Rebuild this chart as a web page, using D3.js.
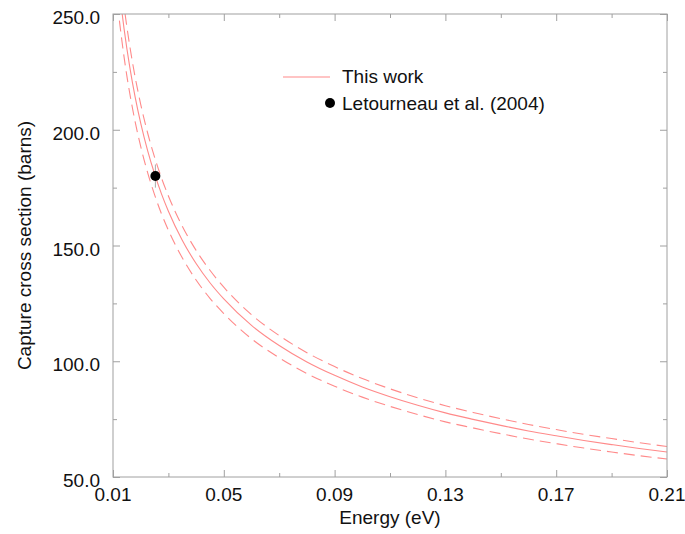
<!DOCTYPE html>
<html>
  <head>
    <style>
      body,
      html {
        margin: 0;
        padding: 0;
        background: #fff;
      }
      text {
        font-family: 'Liberation Sans', Arial, sans-serif;
        fill: #111;
      }
    </style>
  </head>
  <body>
    <svg id="svg" width="685" height="534"></svg>
    <script src="https://cdn.jsdelivr.net/npm/d3@7"></script>
    <script>
      // energies (eV) and capture cross sections (barns)
      const energy = [
        0.011, 0.012, 0.013, 0.014, 0.015, 0.016, 0.018, 0.02, 0.0225, 0.025,
        0.0275, 0.03, 0.035, 0.04, 0.045, 0.05, 0.06, 0.07, 0.08, 0.09, 0.1,
        0.11, 0.12, 0.13, 0.14, 0.15, 0.16, 0.17, 0.18, 0.19, 0.2, 0.21,
      ];
      const central = [
        275.6, 263.6, 253.0, 243.6, 235.1, 227.5, 214.1, 202.9, 191.0, 181.0,
        172.3, 164.8, 152.3, 142.2, 133.9, 126.9, 115.5, 106.8, 99.7, 93.9,
        88.9, 84.7, 81.0, 77.7, 74.9, 72.3, 69.9, 67.8, 65.8, 64.0, 62.3, 60.8,
      ];
      const upper = [
        286.6, 274.1, 263.1, 253.3, 244.5, 236.6, 222.7, 211.0, 198.6, 188.2,
        179.2, 171.4, 158.4, 147.9, 139.3, 132.0, 120.1, 111.1, 103.7, 97.7,
        92.5, 88.1, 84.2, 80.8, 77.9, 75.2, 72.7, 70.5, 68.4, 66.6, 64.8, 63.2,
      ];
      const lower = [
        261.8, 250.4, 240.4, 231.4, 223.3, 216.1, 203.4, 192.8, 181.5, 172.0,
        163.7, 156.6, 144.7, 135.1, 127.2, 120.6, 109.7, 101.5, 94.7, 89.2,
        84.5, 80.5, 77.0, 73.8, 71.2, 68.7, 66.4, 64.4, 62.5, 60.8, 59.2, 57.8,
      ];
      // Letourneau et al. (2004)
      const measured = [{ energy: 0.0253, value: 180, err: 5 }];

      const xTicks = [0.01, 0.05, 0.09, 0.13, 0.17, 0.21];
      const xMinor = [0.03, 0.07, 0.11, 0.15, 0.19];
      const yTicks = [50, 100, 150, 200, 250];
      const yMinor = [75, 125, 175, 225];

      const width = 685;
      const height = 534;
      const margin = { top: 14, right: 18, bottom: 57, left: 113 };
      const lineColor = '#ff8a8a';
      const frameColor = '#a0a0a0';

      const xScale = d3
        .scaleLinear()
        .domain([0.01, 0.21])
        .range([margin.left, width - margin.right]);
      const yScale = d3
        .scaleLinear()
        .domain([50, 250])
        .range([height - margin.bottom, margin.top]);

      const svg = d3.select('#svg');

      svg
        .append('clipPath')
        .attr('id', 'clip')
        .append('rect')
        .attr('x', margin.left)
        .attr('y', margin.top)
        .attr('width', width - margin.left - margin.right)
        .attr('height', height - margin.top - margin.bottom);

      const linegen = (vals) =>
        d3
          .line()
          .x((d, i) => xScale(energy[i]))
          .y((d) => yScale(d))
          .curve(d3.curveMonotoneX)(vals);

      const graph = svg.append('g').attr('clip-path', 'url(#clip)');

      graph
        .append('path')
        .attr('d', linegen(central))
        .attr('fill', 'none')
        .attr('stroke', lineColor)
        .attr('stroke-width', 1.1);

      [upper, lower].forEach((vals) => {
        graph
          .append('path')
          .attr('d', linegen(vals))
          .attr('fill', 'none')
          .attr('stroke', lineColor)
          .attr('stroke-width', 1.1)
          .attr('stroke-dasharray', '11,6');
      });

      // measured point with error bar
      const pts = svg.append('g');
      pts
        .selectAll('line')
        .data(measured)
        .enter()
        .append('line')
        .attr('x1', (d) => xScale(d.energy))
        .attr('x2', (d) => xScale(d.energy))
        .attr('y1', (d) => yScale(d.value + d.err))
        .attr('y2', (d) => yScale(d.value - d.err))
        .attr('stroke', '#aaa')
        .attr('stroke-width', 1);
      pts
        .selectAll('circle')
        .data(measured)
        .enter()
        .append('circle')
        .attr('cx', (d) => xScale(d.energy))
        .attr('cy', (d) => yScale(d.value))
        .attr('r', 5)
        .attr('fill', '#000');

      // frame and ticks
      const axes = svg.append('g').attr('font-size', 19);
      axes
        .append('rect')
        .attr('x', margin.left)
        .attr('y', margin.top)
        .attr('width', width - margin.left - margin.right)
        .attr('height', height - margin.top - margin.bottom)
        .attr('fill', 'none')
        .attr('stroke', frameColor);

      const addAxis = (axis, transform, ticks, size) =>
        axes
          .append('g')
          .attr('transform', transform)
          .call(axis.tickValues(ticks).tickSize(size).tickFormat(''))
          .call((g) => g.select('.domain').remove())
          .call((g) => g.selectAll('line').attr('stroke', frameColor));

      const bottomY = height - margin.bottom;
      const rightX = width - margin.right;
      addAxis(d3.axisTop(xScale), `translate(0,${bottomY})`, xTicks, 7);
      addAxis(d3.axisTop(xScale), `translate(0,${bottomY})`, xMinor, 4);
      addAxis(d3.axisBottom(xScale), `translate(0,${margin.top})`, xTicks, 7);
      addAxis(d3.axisBottom(xScale), `translate(0,${margin.top})`, xMinor, 4);
      addAxis(d3.axisRight(yScale), `translate(${margin.left},0)`, yTicks, 7);
      addAxis(d3.axisRight(yScale), `translate(${margin.left},0)`, yMinor, 4);
      addAxis(d3.axisLeft(yScale), `translate(${rightX},0)`, yTicks, 7);
      addAxis(d3.axisLeft(yScale), `translate(${rightX},0)`, yMinor, 4);

      axes
        .selectAll('.xlab')
        .data(xTicks)
        .enter()
        .append('text')
        .attr('x', (d) => xScale(d))
        .attr('y', bottomY + 24)
        .attr('text-anchor', 'middle')
        .text((d) => d.toFixed(2));

      axes
        .selectAll('.ylab')
        .data(yTicks)
        .enter()
        .append('text')
        .attr('x', margin.left - 13)
        .attr('y', (d) => yScale(d) + 10)
        .attr('text-anchor', 'end')
        .text((d) => d.toFixed(1));

      axes
        .append('text')
        .attr('x', (margin.left + rightX) / 2)
        .attr('y', height - 10)
        .attr('text-anchor', 'middle')
        .text('Energy (eV)');

      axes
        .append('text')
        .attr('transform', `translate(31,${(margin.top + bottomY) / 2}) rotate(-90)`)
        .attr('text-anchor', 'middle')
        .text('Capture cross section (barns)');

      // legend
      const legend = svg.append('g').attr('font-size', 19);
      legend
        .append('line')
        .attr('x1', 283)
        .attr('x2', 330)
        .attr('y1', 77)
        .attr('y2', 77)
        .attr('stroke', lineColor)
        .attr('stroke-width', 1.1);
      legend.append('text').attr('x', 342).attr('y', 83).text('This work');
      legend
        .append('circle')
        .attr('cx', 330)
        .attr('cy', 103)
        .attr('r', 5)
        .attr('fill', '#000');
      legend
        .append('text')
        .attr('x', 342)
        .attr('y', 110)
        .text('Letourneau et al. (2004)');
    </script>
  </body>
</html>
